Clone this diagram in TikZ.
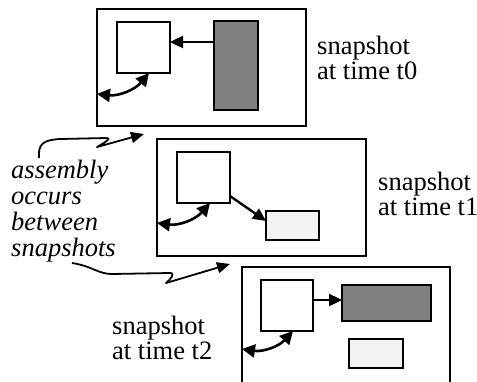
\documentclass[tikz,border=0pt]{standalone}
\usepackage{fontspec}
\setmainfont{Liberation Serif}
\usetikzlibrary{arrows.meta}
\definecolor{darkfill}{HTML}{808080}
\definecolor{lightfill}{HTML}{F2F2F2}
\tikzset{
  frame/.style={draw, line width=1.5pt, anchor=north west, inner sep=0pt, outer sep=0pt},
  box/.style={draw, line width=1.1pt, anchor=north west, inner sep=0pt, outer sep=0pt},
  arr/.style={line width=2.4pt, -{Triangle[length=13pt,width=12pt]}},
  darr/.style={line width=2.6pt, {Triangle[length=13pt,width=13pt]}-{Triangle[length=13pt,width=13pt]}},
  squig/.style={line width=1.8pt, line join=round, -{Triangle[length=13pt,width=11pt]}},
  lbl/.style={font=\fontsize{26.5}{24.2}\selectfont, align=left, inner sep=0pt, anchor=west},
  ilbl/.style={font=\fontsize{26.5}{25.8}\selectfont\itshape, align=left, inner sep=0pt, anchor=west}
}
\begin{document}
\begin{tikzpicture}[x=1pt,y=-1pt]
\useasboundingbox (0,0) rectangle (477,381);
\clip (0,0) rectangle (477,381);
% frame 1
\node[frame, minimum width=209pt, minimum height=117pt] (f1) at (97,9) {};
\node[box, minimum width=53pt, minimum height=51pt] (s1) at (117,22) {};
\node[box, fill=darkfill, minimum width=44pt, minimum height=89pt] (g1) at (214,21) {};
\draw[arr] (g1.west |- 0,42) -- (s1.east |- 0,42);
\draw[darr] (f1.west |- 0,94) to[bend right=28] (149,0 |- s1.south);
\node[lbl] (t0) at (317,58) {snapshot\\at time t0};
% frame 2
\node[frame, minimum width=209pt, minimum height=117pt] (f2) at (157,139) {};
\node[box, minimum width=53pt, minimum height=51pt] (s2) at (177,152) {};
\node[box, fill=lightfill, minimum width=53pt, minimum height=29pt] (l2) at (266,211) {};
\draw[arr] (s2.east |- 0,196) -- (l2.west |- 0,221);
\draw[darr] (f2.west |- 0,223) to[bend right=28] (210,0 |- s2.south);
\node[lbl] (t1) at (378,194) {snapshot\\at time t1};
% frame 3
\node[frame, minimum width=208pt, minimum height=140pt] (f3) at (242,267) {};
\node[box, minimum width=52pt, minimum height=51pt] (s3) at (261,280) {};
\node[box, fill=darkfill, minimum width=89pt, minimum height=36pt] (g3) at (342,285) {};
\node[box, fill=lightfill, minimum width=54pt, minimum height=29pt] (l3) at (349,339) {};
\draw[arr] (s3.east |- 0,300) -- (g3.west |- 0,300);
\draw[darr] (f3.west |- 0,349) to[bend right=28] (293,0 |- s3.south);
\node[lbl] (t2) at (112,338) {snapshot\\at time t2};
% note
\node[ilbl] (note) at (11,211) {assembly\\occurs\\between\\snapshots};
\coordinate (a1) at (39,158);
\coordinate (tipA) at (144,134);
\coordinate (a2) at (72,263);
\coordinate (tipB) at (230,264);
\draw[squig] (a1) .. controls (38,144) and (43,140) .. (60,139)
  -- (107,138) .. controls (112,138) and (104,143) .. (97,147) -- (tipA);
\draw[squig] (a2) .. controls (92,266) and (98,274) .. (112,274)
  -- (170,273) .. controls (176,273) and (170,280) .. (166,283) -- (tipB);
\end{tikzpicture}
\end{document}
